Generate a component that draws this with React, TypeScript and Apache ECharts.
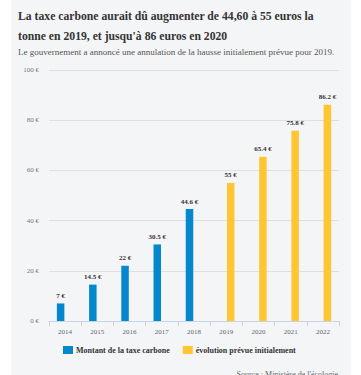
import React, { useEffect, useRef } from "react";
import * as echarts from "echarts";

const years = ["2014", "2015", "2016", "2017", "2018", "2019", "2020", "2021", "2022"];
const actual = [7, 14.5, 22, 30.5, 44.6, null, null, null, null];
const planned = [null, null, null, null, null, 55, 65.4, 75.8, 86.2];
const seriesNames = ["Montant de la taxe carbone", "évolution prévue initialement"];
const titleLines = [
  "La taxe carbone aurait dû augmenter de 44,60 à 55 euros la",
  "tonne en 2019, et jusqu'à 86 euros en 2020",
];
const subtitle = "Le gouvernement a annoncé une annulation de la hausse initialement prévue pour 2019.";
const source = "Source : Ministère de l'écologie";

const SERIF = "'Liberation Serif', 'DejaVu Serif', serif";

export default function App() {
  const ref = useRef<HTMLDivElement>(null);
  useEffect(() => {
    if (!ref.current) return;
    const chart = echarts.init(ref.current, undefined, { renderer: "svg" });
    const labelCfg = {
      show: true,
      position: "top",
      distance: 4,
      fontFamily: SERIF,
      fontSize: 7,
      fontWeight: "bold",
      color: "#333",
      formatter: (p: any) => `${p.value} €`,
    };
    chart.setOption({
      animation: false,
      backgroundColor: "#ffffff",
      graphic: [
        { type: "rect", z: -10, shape: { x: 11, y: 0, width: 340, height: 375 }, style: { fill: "#f4f5f7" } },
        { type: "text", left: 18, top: 10, style: { text: titleLines[0], font: `bold 11.7px ${SERIF}`, fill: "#333" } },
        { type: "text", left: 18, top: 30, style: { text: titleLines[1], font: `bold 11.7px ${SERIF}`, fill: "#333" } },
        { type: "text", left: 18, top: 47, style: { text: subtitle, font: `9px ${SERIF}`, fill: "#555" } },
        { type: "text", right: 23, top: 370, style: { text: source, font: `8px ${SERIF}`, fill: "#666" } },
      ],
      legend: {
        top: 346,
        left: 63,
        padding: 0,
        itemWidth: 10,
        itemHeight: 8,
        itemGap: 13,
        icon: "rect",
        textStyle: { fontFamily: SERIF, fontSize: 8, fontWeight: "bold", color: "#333", padding: [0, 0, 0, -2] },
        data: seriesNames,
      },
      grid: { left: 49, right: 22, top: 70, bottom: 54 },
      xAxis: {
        type: "category",
        data: years,
        axisLine: { lineStyle: { color: "#c9d4e2" } },
        axisTick: { show: true, length: 5, lineStyle: { color: "#c9d4e2" } },
        axisLabel: { fontFamily: SERIF, fontSize: 7, color: "#666", margin: 7 },
      },
      yAxis: {
        type: "value",
        min: 0,
        max: 100,
        interval: 20,
        axisLine: { show: false },
        axisTick: { show: false },
        splitLine: { lineStyle: { color: "#dcdfe4" } },
        axisLabel: { fontFamily: SERIF, fontSize: 7, color: "#777", margin: 10, formatter: "{value} €" },
      },
      series: [
        {
          name: seriesNames[0],
          type: "bar",
          data: actual,
          barWidth: 7.5,
          barGap: "20%",
          itemStyle: { color: "#0487cc" },
          label: labelCfg,
        },
        {
          name: seriesNames[1],
          type: "bar",
          data: planned,
          barWidth: 7.5,
          barGap: "20%",
          itemStyle: { color: "#ffc533" },
          label: labelCfg,
        },
      ],
    });
    return () => chart.dispose();
  }, []);
  return <div ref={ref} style={{ position: "fixed", left: 0, top: 0, width: 361, height: 375 }} />;
}
